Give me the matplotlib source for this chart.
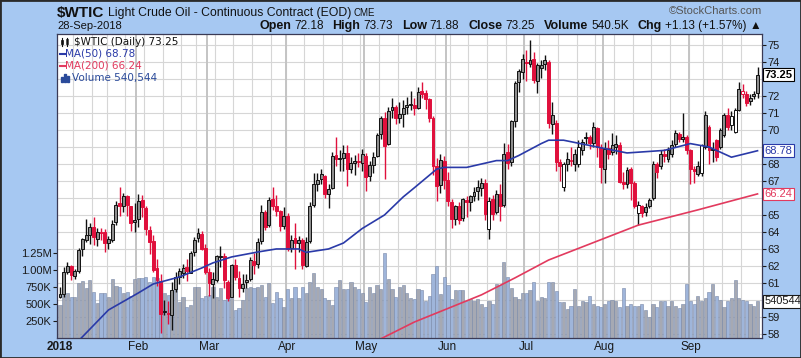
import matplotlib.pyplot as plt
import numpy as np
import pandas as pd
from matplotlib.patches import Rectangle
from matplotlib.lines import Line2D

plt.rcParams['font.family'] = ['Liberation Sans', 'DejaVu Sans']

# trading days shown on the chart
holidays = ['2018-01-15', '2018-02-19', '2018-03-30', '2018-05-28', '2018-07-04', '2018-09-03']
dates = pd.bdate_range('2018-01-02', '2018-09-28', freq='C', holidays=holidays)

opens = [60.20, 60.34, 61.66, 61.98, 61.38, 61.70, 62.97, 63.50, 63.81, 64.30, 63.61, 63.98, 63.98, 63.33, 63.54, 64.59, 65.70, 65.51, 66.10, 65.50, 64.57,
         64.75, 65.88, 65.40, 64.10, 63.48, 61.90, 61.09, 59.33, 59.24, 59.11, 60.62, 61.34, 61.60, 61.95, 61.58, 62.80, 63.63, 63.88, 63.05,
         61.65, 60.95, 61.19, 62.55, 62.58, 61.05, 60.20, 62.06, 61.32, 60.69, 61.05, 61.24, 62.30, 62.11, 63.45, 65.19, 64.40, 65.96, 65.55, 65.24, 64.36,
         64.92, 63.07, 63.64, 63.35, 63.50, 62.02, 63.45, 65.56, 66.85, 67.09, 67.30, 66.25, 66.60, 68.50, 68.30, 68.35, 68.65, 67.70, 68.05, 68.20, 68.05,
         68.48, 67.30, 67.95, 68.48, 69.79, 70.70, 69.15, 71.20, 71.33, 70.72, 70.95, 71.35, 71.50, 71.45, 71.30, 72.28, 72.20, 71.80, 70.70, 67.90, 66.75, 68.15,
         67.05, 65.75, 64.75, 65.55, 64.80, 65.90, 65.76, 66.10, 66.40, 66.60, 66.90, 64.15, 65.92, 65.20, 66.25, 65.59, 68.70, 68.10, 70.55, 72.80, 73.40,
         74.00, 73.90, 74.20, 72.90, 73.65, 73.90, 74.00, 70.35, 70.40, 68.10, 66.65, 68.00, 68.20, 68.00, 68.00, 68.80, 69.55, 69.60, 69.25, 70.10, 69.00,
         67.70, 68.95, 68.70, 69.00, 69.10, 66.95, 66.80, 67.70, 66.90, 65.10, 65.50, 65.20, 65.50, 66.00, 68.00, 67.90, 68.60, 68.30, 68.60, 69.20, 69.75, 69.50, 69.60,
         68.80, 67.70, 67.40, 67.45, 69.00, 70.20, 68.80, 69.40, 69.00, 69.70, 70.90, 70.80, 69.90, 71.20, 72.10, 72.10, 71.70, 72.00, 72.18]
highs = [60.74, 61.95, 62.21, 62.04, 61.81, 63.08, 63.67, 64.77, 64.50, 64.89, 64.26, 64.24, 64.15, 63.78, 64.69, 65.82, 66.66, 66.29, 66.20, 65.52, 65.69,
         66.26, 66.15, 65.52, 64.38, 63.80, 62.39, 61.55, 60.02, 59.95, 61.08, 61.64, 61.90, 62.09, 62.40, 62.90, 63.73, 64.24, 64.08, 63.27,
         61.88, 61.66, 62.66, 63.18, 62.75, 61.20, 62.14, 62.39, 61.68, 61.55, 61.50, 62.50, 62.76, 63.64, 65.60, 65.28, 66.04, 66.66, 66.17, 65.30, 65.45,
         65.13, 63.80, 64.52, 63.79, 63.63, 63.70, 65.77, 67.45, 67.45, 67.68, 67.38, 66.84, 68.68, 69.56, 68.81, 69.14, 69.10, 68.40, 68.50, 68.65, 68.88,
         68.64, 68.18, 68.73, 69.82, 70.84, 71.05, 71.34, 71.89, 71.46, 71.64, 71.76, 71.92, 72.30, 71.90, 72.54, 72.83, 72.33, 71.90, 70.85, 68.35, 68.60, 68.46,
         67.55, 65.95, 65.57, 65.74, 66.00, 66.11, 66.15, 66.65, 67.05, 67.17, 67.10, 66.06, 66.17, 66.47, 66.80, 69.24, 69.20, 70.61, 72.88, 73.57, 74.46,
         74.70, 75.27, 74.58, 73.92, 74.10, 74.44, 74.10, 71.65, 70.60, 68.30, 68.10, 68.70, 69.00, 68.90, 69.40, 69.50, 69.90, 69.70, 70.45, 70.20, 69.20,
         69.30, 69.40, 69.85, 69.70, 69.30, 67.50, 67.80, 67.80, 67.00, 65.80, 65.60, 65.70, 66.00, 68.20, 68.10, 68.80, 68.90, 69.00, 69.40, 70.00, 69.90, 71.00, 69.70,
         68.90, 67.90, 68.20, 69.20, 71.10, 70.30, 69.30, 69.50, 70.10, 71.00, 71.30, 71.10, 71.30, 72.80, 72.70, 72.30, 72.10, 72.30, 73.73]
lows = [60.10, 60.18, 61.54, 61.15, 61.22, 61.56, 62.60, 63.40, 63.32, 63.25, 63.17, 63.52, 62.84, 62.97, 63.40, 64.40, 64.95, 65.20, 64.96, 64.08, 64.02,
        64.29, 64.90, 63.84, 62.70, 61.65, 60.84, 58.07, 59.09, 58.57, 58.22, 60.44, 60.92, 61.30, 61.10, 61.56, 62.56, 63.41, 62.92, 61.55,
        60.24, 60.14, 61.07, 61.91, 60.72, 59.95, 60.18, 61.15, 60.17, 60.45, 60.70, 61.10, 61.53, 61.87, 63.32, 64.11, 64.30, 65.30, 64.93, 64.06, 64.15,
        62.87, 62.82, 61.84, 62.85, 61.81, 61.95, 63.37, 65.44, 66.40, 66.80, 66.01, 65.41, 66.54, 67.86, 67.59, 67.56, 66.70, 67.48, 67.34, 67.85, 67.60,
        66.39, 67.00, 67.47, 68.40, 69.48, 67.13, 69.10, 70.70, 70.35, 70.40, 70.19, 70.93, 71.15, 70.86, 71.25, 71.86, 71.21, 70.45, 67.36, 65.80, 66.28, 66.52,
        65.53, 64.22, 64.39, 64.49, 64.63, 64.89, 65.25, 65.81, 65.88, 66.13, 64.70, 63.59, 64.68, 65.07, 64.62, 65.46, 67.70, 67.89, 70.20, 72.23, 73.00,
        72.87, 73.70, 72.76, 72.19, 73.04, 73.55, 70.10, 69.75, 67.60, 67.00, 66.40, 67.60, 67.90, 67.60, 67.80, 68.50, 69.20, 68.90, 69.00, 68.40, 66.90,
        66.90, 68.30, 68.50, 68.60, 66.90, 66.50, 66.60, 65.90, 65.40, 64.43, 64.90, 64.95, 65.40, 65.90, 67.20, 67.70, 68.10, 68.10, 68.40, 69.00, 69.30, 69.30, 68.60,
        66.80, 66.90, 67.30, 67.30, 68.90, 68.00, 68.10, 68.20, 68.90, 69.60, 70.00, 70.00, 69.80, 71.10, 71.90, 71.40, 71.50, 71.80, 71.88]
closes = [60.37, 61.63, 62.01, 61.44, 61.73, 62.96, 63.57, 63.80, 64.30, 63.73, 63.97, 63.95, 63.37, 63.57, 64.47, 65.61, 65.51, 66.14, 65.56, 64.50, 64.73,
          65.80, 65.45, 64.15, 63.39, 61.79, 61.15, 59.20, 59.29, 59.19, 60.60, 61.34, 61.68, 61.90, 61.68, 62.77, 63.55, 63.91, 63.01, 61.64,
          60.99, 61.25, 62.57, 62.60, 61.15, 60.12, 62.04, 61.36, 60.71, 60.96, 61.19, 62.34, 62.06, 63.40, 65.17, 64.30, 65.88, 65.55, 65.25, 64.38, 64.94,
          63.01, 63.51, 63.37, 63.54, 62.06, 63.42, 65.51, 66.82, 67.07, 67.39, 66.22, 66.52, 68.47, 68.29, 68.38, 68.64, 67.70, 68.05, 68.19, 68.10, 68.57,
          67.25, 67.93, 68.43, 69.72, 70.73, 69.06, 71.14, 71.36, 70.70, 70.96, 71.31, 71.49, 71.49, 71.28, 72.24, 72.13, 71.84, 70.71, 67.88, 66.73, 68.21, 67.04,
          65.81, 64.75, 65.52, 64.73, 65.95, 65.74, 66.10, 66.36, 66.64, 66.89, 65.06, 65.85, 65.07, 66.22, 65.54, 68.58, 68.08, 70.53, 72.76, 73.45, 74.15,
          73.94, 74.14, 72.94, 73.80, 73.85, 74.11, 70.40, 70.90, 68.10, 67.90, 68.00, 68.30, 68.20, 68.60, 69.00, 69.30, 69.60, 69.25, 70.20, 69.00, 67.85,
          68.90, 68.60, 69.10, 69.15, 66.95, 66.85, 67.65, 66.90, 65.50, 65.60, 65.10, 65.45, 65.90, 68.00, 67.50, 68.60, 68.45, 68.80, 69.10, 69.80, 69.50, 69.60, 68.80,
          67.70, 67.60, 67.90, 69.10, 70.90, 68.80, 68.85, 68.40, 70.00, 70.90, 70.20, 70.30, 71.20, 72.40, 72.30, 71.60, 71.90, 72.12, 73.25]
volumes = [485, 632, 662, 603, 603, 809, 838, 735, 853, 676, 515, 662, 662, 603, 868, 765, 750, 662, 676, 618, 868,
           882, 882, 897, 824, 897, 882, 750, 662, 632, 603, 750, 529, 603, 456, 485, 750, 750, 588, 618,
           632, 750, 603, 735, 559, 706, 588, 412, 441, 559, 735, 750, 735, 750, 779, 603, 809, 515, 676, 588, 456,
           720, 588, 750, 588, 750, 662, 824, 956, 750, 720, 588, 560, 485, 750, 853, 720, 720, 824, 750, 720, 662,
           530, 750, 662, 780, 720, 1250, 868, 720, 603, 750, 780, 662, 588, 574, 721, 706, 544, 618, 941, 1060, 640, 897,
           780, 574, 706, 706, 706, 544, 574, 544, 574, 500, 456, 544, 500, 794, 780, 1120, 897, 735, 603, 574, 660,
           660, 706, 824, 544, 603, 590, 824, 824, 691, 529, 529, 426, 470, 721, 470, 544, 529, 618, 500, 470, 456,
           500, 544, 559, 544, 456, 735, 470, 500, 470, 470, 500, 412, 309, 500, 456, 544, 544, 470, 544, 470, 440, 500, 794,
           544, 500, 618, 544, 588, 676, 794, 618, 559, 456, 544, 588, 853, 588, 559, 544, 500, 470, 540.544]

# moving averages (index, value)
ma50_idx = [5, 13, 21, 25, 32, 38, 41, 46, 53, 58, 64, 66, 72, 76, 81, 87, 92, 95, 101, 103, 109, 117, 120, 123,
            129, 131, 135, 144, 152, 162, 169, 174, 180, 187]
ma50_val = [57.6, 59.41, 60.41, 60.94, 61.35, 61.88, 62.18, 62.53, 62.82, 63.0, 63.0, 62.8, 63.0, 63.35, 64.2, 65.0,
            66.06, 66.6, 67.7, 67.8, 67.8, 68.2, 68.2, 68.5, 69.2, 69.4, 69.4, 69.0, 68.65, 68.8, 69.2, 69.0, 68.4, 68.78]
ma200_idx = [85, 95, 104, 113, 122, 131, 155, 171, 187]
ma200_val = [57.6, 58.7, 59.5, 60.3, 61.3, 62.35, 64.4, 65.3, 66.24]

W, H = 801, 358
BG = '#a6c8f2'
RED = '#e0103c'
MA50_C = '#2a3aa8'
MA200_C = '#e23a5e'


def fx(px):
    return px / W


def fy(py):
    return 1 - py / H


fig = plt.figure(figsize=(W / 100, H / 100), dpi=100)
fig.patch.set_facecolor(BG)
rect = [fx(57), fy(338), fx(762) - fx(57), fy(34) - fy(338)]

x = np.arange(len(closes))
o = np.array(opens)
h = np.array(highs)
l = np.array(lows)
c = np.array(closes)
v = np.array(volumes) * 1000
prev = np.concatenate([[o[0]], c[:-1]])
up = c >= prev

week_starts = [i for i in range(1, len(dates)) if dates[i].weekday() < dates[i - 1].weekday()]
month_starts = [0] + [i for i in range(1, len(dates)) if dates[i].month != dates[i - 1].month]

xlim = (-0.8, 188.2)
ylim = (57.76, 75.65)

# grid layer
ax_g = fig.add_axes(rect)
ax_g.set_facecolor('white')
ax_g.set_xlim(xlim)
ax_g.set_ylim(ylim)
for p in range(58, 76):
    ax_g.axhline(p, color='#d6d6d6', lw=0.8)
for i in week_starts:
    ax_g.axvline(i - 0.5, color='#d6d6d6', lw=0.8)
for i in month_starts[1:]:
    ax_g.axvline(i - 0.5, color='#c4c4c4', lw=1.4)
ax_g.set_xticks([])
ax_g.set_yticks([])
for s in ax_g.spines.values():
    s.set_visible(False)

# volume layer
ax_v = fig.add_axes(rect)
ax_v.patch.set_visible(False)
ax_v.set_xlim(xlim)
ax_v.set_ylim(0, (338 - 34) / 17 * 250000)
vcol = np.where(up, '#a6a9b3', '#9fb5da')
ax_v.bar(x, v, width=0.85, color=vcol, edgecolor='#7888a8', linewidth=0.4)
ax_v.set_xticks([])
ax_v.set_yticks([250000, 500000, 750000, 1000000, 1250000])
ax_v.set_yticklabels(['250K', '500K', '750K', '1.00M', '1.25M'])
ax_v.tick_params(axis='y', labelsize=8, length=3, pad=1, colors='#1a1a1a')
for s in ax_v.spines.values():
    s.set_visible(False)

# price layer
ax = fig.add_axes(rect)
ax.patch.set_visible(False)
ax.set_xlim(xlim)
ax.set_ylim(ylim)

edge = np.where(up, '#111111', RED)
fill = []
for i in range(len(c)):
    if up[i]:
        fill.append('#8e8e8e' if o[i] <= c[i] and o[i] >= prev[i] - 0.3 else 'white')
    else:
        fill.append(RED if c[i] < o[i] else 'white')
ax.vlines(x, l, h, colors=edge, lw=1.0, zorder=3)
body_lo = np.minimum(o, c)
body_h = np.maximum(np.abs(c - o), 0.06)
ax.bar(x, body_h, bottom=body_lo, width=0.78, color=fill, edgecolor=edge, linewidth=0.7, zorder=4)

ax.plot(ma50_idx, ma50_val, color=MA50_C, lw=1.2, zorder=5)
ax.plot(ma200_idx, ma200_val, color=MA200_C, lw=1.2, zorder=5)

# price labels on the right; the ones under the value flags stay blank
price_ticks = list(range(58, 76))
hidden = [60, 66, 69, 73]
ax.yaxis.tick_right()
ax.set_yticks(price_ticks)
ax.set_yticklabels(['' if p in hidden else str(p) for p in price_ticks])
ax.tick_params(axis='y', labelsize=8, length=3, pad=1, colors='#1a1a1a')
ax.set_xticks(month_starts)
ax.set_xticklabels(['2018', 'Feb', 'Mar', 'Apr', 'May', 'Jun', 'Jul', 'Aug', 'Sep'])
ax.tick_params(axis='x', labelsize=8.5, length=0, pad=2, colors='#1a1a1a')
ax.get_xticklabels()[0].set_fontweight('bold')
for s in ax.spines.values():
    s.set_color('#3a3a55')
    s.set_linewidth(0.9)

# value flags on the right edge
flag = dict(xycoords=('axes fraction', 'data'), xytext=(2, 0), textcoords='offset points',
            va='center', ha='left', fontsize=8, annotation_clip=False, zorder=10)
ax.annotate('73.25', xy=(1.0, closes[-1]), fontweight='bold', color='black',
            bbox=dict(boxstyle='square,pad=0.12', fc='white', ec='black', lw=0.8), **flag)
ax.annotate('68.78', xy=(1.0, ma50_val[-1]), color=MA50_C,
            bbox=dict(boxstyle='square,pad=0.12', fc='white', ec=MA50_C, lw=0.8), **flag)
ax.annotate('66.24', xy=(1.0, ma200_val[-1]), color=MA200_C,
            bbox=dict(boxstyle='square,pad=0.12', fc='white', ec=MA200_C, lw=0.8), **flag)
ax.annotate('540544', xy=(1.0, volumes[-1] * 1000), xycoords=('axes fraction', ax_v.transData),
            xytext=(2, 0), textcoords='offset points', va='center', ha='left', fontsize=8,
            color='#1a1a1a', annotation_clip=False, zorder=10,
            bbox=dict(boxstyle='square,pad=0.12', fc='white', ec='#1a1a1a', lw=0.8))

# header
fig.text(fx(57), fy(13), '$WTIC', fontsize=11, fontweight='bold', va='center', color='#111111')
fig.text(fx(108), fy(13), 'Light Crude Oil - Continuous Contract (EOD)', fontsize=8.8, va='center', color='#111111')
fig.text(fx(354), fy(13), 'CME', fontsize=7, va='center', color='#111111')
fig.text(fx(762), fy(11), '\u00a9StockCharts.com', fontsize=8, va='center', ha='right', color='#555555')
fig.text(fx(57), fy(26), '28-Sep-2018', fontsize=8, va='center', color='#111111')

# quote line, laid out right to left so it ends at the arrow
info = [('Open', True), ('72.18', False), ('High', True), ('73.73', False), ('Low', True), ('71.88', False),
        ('Close', True), ('73.25', False), ('Volume', True), ('540.5K', False), ('Chg', True),
        ('+1.13 (+1.57%)', False), ('\u25b2', False)]
renderer = fig.canvas.get_renderer()
items = []
for s, b in info:
    t = fig.text(0, fy(26), s, fontsize=9 if b else 8.5, fontweight='bold' if b else 'normal',
                 va='center', color='#111111')
    items.append((t, t.get_window_extent(renderer).width, b))
cursor = 761
for t, wdt, b in reversed(items):
    cursor -= wdt
    t.set_x(fx(cursor))
    cursor -= 3 if not b else 9

# legend block inside the chart
fig.text(fx(74), fy(42), '$WTIC (Daily) 73.25', fontsize=7.5, va='center', color='#111111',
         family=['DejaVu Sans'])
fig.text(fx(65), fy(54), 'MA(50) 68.78', fontsize=7.5, va='center', color=MA50_C, family=['DejaVu Sans'])
fig.text(fx(65), fy(66), 'MA(200) 66.24', fontsize=7.5, va='center', color=MA200_C, family=['DejaVu Sans'])
fig.text(fx(72), fy(78), 'Volume 540,544', fontsize=7.5, va='center', color='#2a4a9a', family=['DejaVu Sans'])
fig.add_artist(Line2D([fx(60), fx(65)], [fy(54), fy(54)], color=MA50_C, lw=1.5))
fig.add_artist(Line2D([fx(60), fx(65)], [fy(66), fy(66)], color=MA200_C, lw=1.5))
for k, hh in enumerate([5, 8, 6]):
    fig.add_artist(Rectangle((fx(61 + 3 * k), fy(82)), fx(2), hh / H, color='#2a4a9a'))
fig.add_artist(Line2D([fx(62), fx(62)], [fy(46), fy(38)], color='#111111', lw=0.8))
fig.add_artist(Rectangle((fx(61), fy(44)), fx(2.2), 4 / H, fc='#111111', ec='#111111', lw=0.5))
fig.add_artist(Line2D([fx(67), fx(67)], [fy(46), fy(38)], color='#111111', lw=0.8))
fig.add_artist(Rectangle((fx(66), fy(44)), fx(2.2), 5 / H, fc='white', ec='#111111', lw=0.5))

fig.add_artist(Rectangle((0, 0), 1, 1, transform=fig.transFigure, fill=False, ec='#2a2a2a', lw=2))

fig.savefig('out.png', dpi=100, facecolor=fig.get_facecolor())
